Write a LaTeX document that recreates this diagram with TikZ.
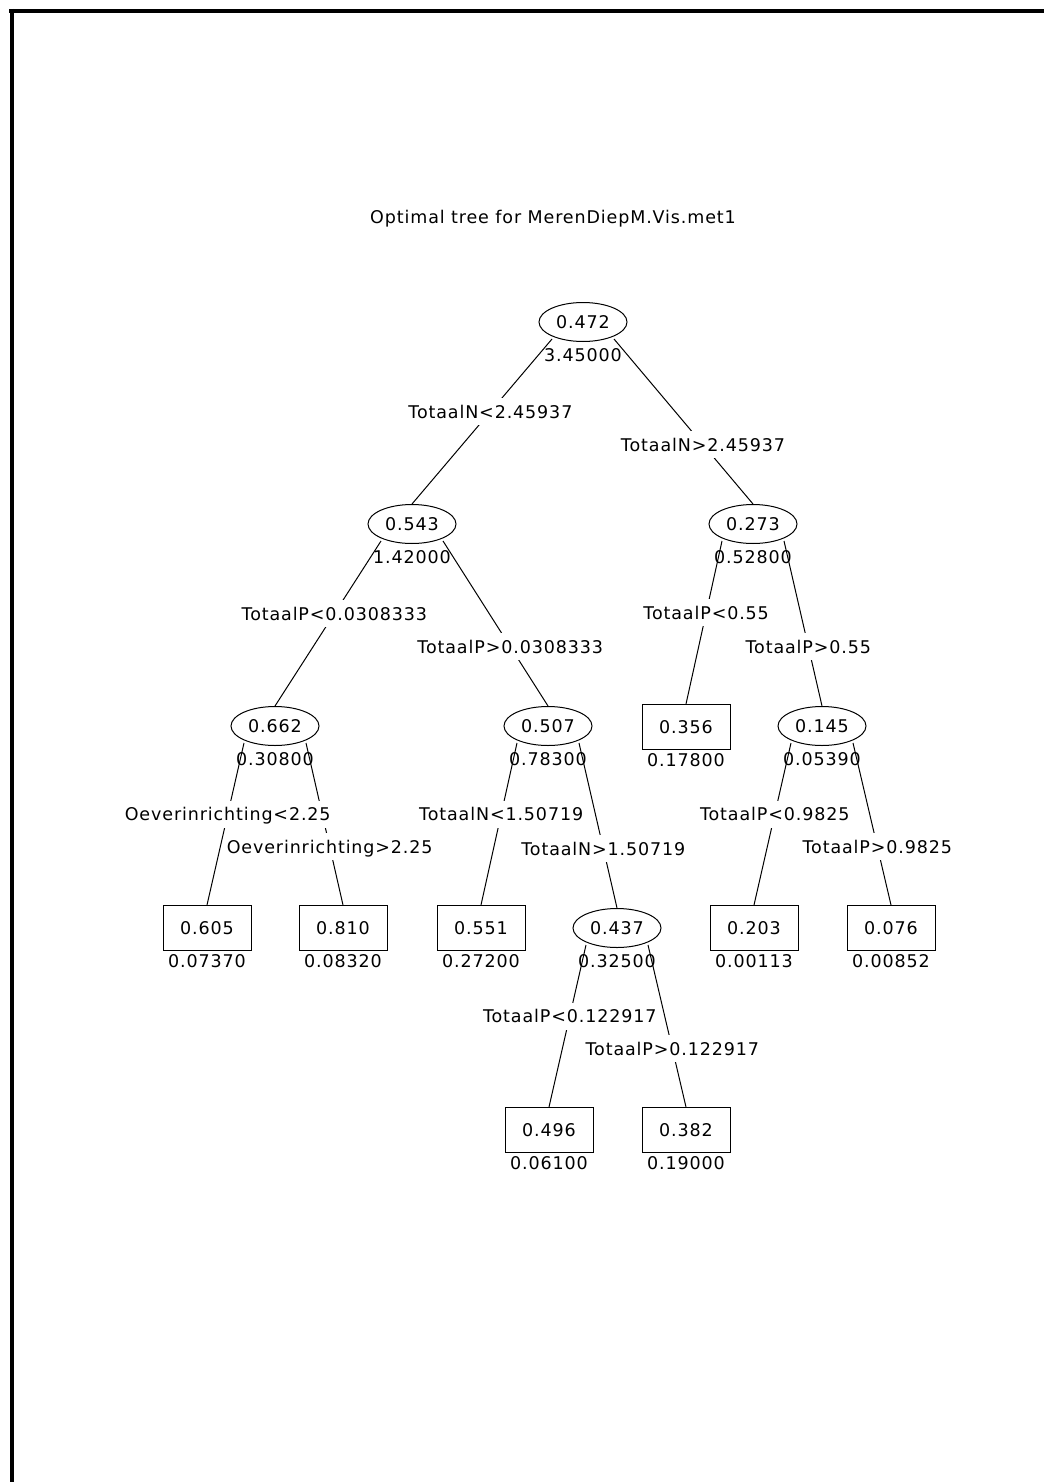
\documentclass[tikz,border=0pt]{standalone}
\usepackage{fontspec}
\setmainfont{DejaVu Sans}[LetterSpace=5]
\usetikzlibrary{shapes.geometric,calc}

\tikzset{
  txt/.style={font=\fontsize{17.5}{20}\selectfont, inner sep=0pt,
              text height=16.8pt, text depth=4pt},
  split/.style={txt, ellipse, draw, line width=1pt,
                minimum width=88pt, minimum height=39pt},
  leaf/.style={txt, rectangle, draw, line width=1pt,
               minimum width=88pt, minimum height=45pt},
  stat/.style={txt},
  cond/.style={txt, fill=white, inner xsep=1pt, inner ysep=3pt},
  link/.style={line width=1pt},
}

\begin{document}
\begin{tikzpicture}[x=1pt, y=-1pt]
  \useasboundingbox (0,0) rectangle (1044,1482);

  % frame
  \draw[line width=4pt] (9,11) -- (1044,11);
  \draw[line width=4pt] (12,9) -- (12,1482);

  \node[txt] (title) at (553,217) {Optimal tree for MerenDiepM.Vis.met1};

  % splits and leaves
  \node[split] (r) at (583,322) {0.472};
  \node[split] (a) at (412,524) {0.543};
  \node[split] (b) at (753,524) {0.273};
  \node[split] (c) at (275,726) {0.662};
  \node[split] (d) at (548,726) {0.507};
  \node[leaf]  (e) at (686,727) {0.356};
  \node[split] (f) at (822,726) {0.145};
  \node[leaf]  (g) at (207,928) {0.605};
  \node[leaf]  (h) at (343,928) {0.810};
  \node[leaf]  (i) at (481,928) {0.551};
  \node[split] (j) at (617,928) {0.437};
  \node[leaf]  (k) at (754,928) {0.203};
  \node[leaf]  (l) at (891,928) {0.076};
  \node[leaf]  (m) at (549,1130) {0.496};
  \node[leaf]  (n) at (686,1130) {0.382};

  % deviance under each node
  \foreach \v/\t in {r/3.45000, a/1.42000, b/0.52800, c/0.30800, d/0.78300,
                     e/0.17800, f/0.05390, g/0.07370, h/0.08320, i/0.27200,
                     j/0.32500, k/0.00113, l/0.00852, m/0.06100, n/0.19000}
    \node[stat] (\v-dev) at ([yshift=-33pt]\v.center) {\t};

  % branches
  \foreach \p/\c/\s in {r/a/-1, r/b/1, a/c/-1, a/d/1, b/e/-1, b/f/1,
                        c/g/-1, c/h/1, d/i/-1, d/j/1, f/k/-1, f/l/1,
                        j/m/-1, j/n/1}
    \draw[link] ([shift={(\s*31,17)}]\p.center) -- (\c.north);

  % split conditions, on top of the branches
  \foreach \p/\c/\s/\f/\t in {
      r/a/-1/0.44/{TotaalN<2.45937},
      r/b/1/0.64/{TotaalN>2.45937},
      a/c/-1/0.44/{TotaalP<0.0308333},
      a/d/1/0.64/{TotaalP>0.0308333},
      b/e/-1/0.44/{TotaalP<0.55},
      b/f/1/0.64/{TotaalP>0.55},
      c/g/-1/0.44/{Oeverinrichting<2.25},
      c/h/1/0.64/{Oeverinrichting>2.25},
      d/i/-1/0.44/{TotaalN<1.50719},
      d/j/1/0.64/{TotaalN>1.50719},
      f/k/-1/0.44/{TotaalP<0.9825},
      f/l/1/0.64/{TotaalP>0.9825},
      j/m/-1/0.44/{TotaalP<0.122917},
      j/n/1/0.64/{TotaalP>0.122917}}
    \node[cond] (\c-cond) at ($([shift={(\s*31,17)}]\p.center)!\f!(\c.north)$) {\t};
\end{tikzpicture}
\end{document}
